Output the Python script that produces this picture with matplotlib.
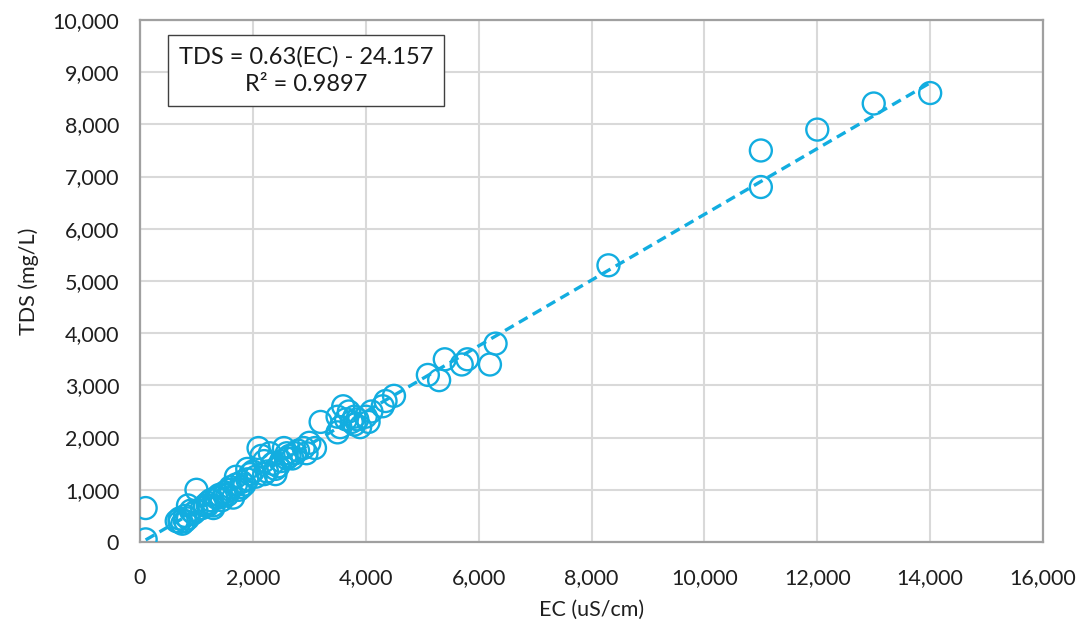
import matplotlib.pyplot as plt
import numpy as np
from matplotlib.ticker import FuncFormatter

plt.rcParams['font.family'] = ['Lato', 'DejaVu Sans']

# EC (uS/cm) vs TDS (mg/L) samples
ec = [100, 100, 650, 700, 750, 800, 800, 850, 900, 950, 1000, 1000, 1100,
      1200, 1200, 1250, 1300, 1350, 1400, 1400, 1450, 1500, 1550, 1600,
      1650, 1700, 1700, 1750, 1800, 1850, 1900, 1900, 1950, 2000, 2100,
      2150, 2200, 2250, 2300, 2350, 2400, 2450, 2500, 2550, 2600, 2600,
      2700, 2750, 2800, 2900, 2950, 3000, 3100, 3200, 3500, 3500, 3550,
      3600, 3700, 3750, 3800, 3800, 3850, 3900, 4000, 4050, 4100, 4300,
      4350, 4500, 5100, 5300, 5400, 5700, 5800, 6200, 6300, 8300, 11000,
      11000, 12000, 13000, 14000,
      700, 850, 1150, 1300, 1500, 1600, 1800, 2050, 2200, 2400, 2650, 3650]
tds = [50, 650, 400, 450, 350, 400, 500, 700, 600, 550, 1000, 600, 650,
       700, 750, 800, 700, 850, 850, 900, 800, 950, 900, 1000,
       850, 1100, 1250, 1000, 1150, 1100, 1200, 1400, 1300, 1350, 1800,
       1650, 1300, 1350, 1700, 1500, 1400, 1450, 1550, 1800, 1700, 1600,
       1600, 1700, 1750, 1800, 1700, 1900, 1800, 2300, 2100, 2400, 2200,
       2600, 2500, 2300, 2250, 2400, 2350, 2200, 2400, 2300, 2500, 2600,
       2700, 2800, 3200, 3100, 3500, 3400, 3500, 3400, 3800, 5300, 6800,
       7500, 7900, 8400, 8600,
       380, 450, 700, 650, 900, 1050, 1050, 1250, 1550, 1300, 1650, 2350]

# trendline as reported on the chart
slope = 0.63
intercept = -24.157
r2 = 0.9897

blue = '#12ADE0'

fig = plt.figure(figsize=(10.82, 6.3), dpi=100)
ax = fig.add_axes([0.1294, 0.1397, 0.8346, 0.8286])

ax.scatter(ec, tds, s=250, facecolors='none', edgecolors=blue,
           linewidths=1.7, zorder=3)
xl = np.array([min(ec), max(ec)])
ax.plot(xl, slope * xl + intercept, ls=(0, (3, 1.8)), color=blue, lw=2.4,
        zorder=4)

ax.set_xlim(0, 16000)
ax.set_ylim(0, 10000)
ax.set_xticks(np.arange(0, 16001, 2000))
ax.set_yticks(np.arange(0, 10001, 1000))
fmt = FuncFormatter(lambda v, p: f'{int(v):,}')
ax.xaxis.set_major_formatter(fmt)
ax.yaxis.set_major_formatter(fmt)
ax.tick_params(length=0, labelsize=15.5, colors='#1f1f1f')
ax.tick_params(axis='x', pad=19)
ax.tick_params(axis='y', pad=15)
ax.grid(True, color='#D9D9D9', lw=1.5)
ax.set_axisbelow(True)
for sp in ax.spines.values():
    sp.set_color('#A0A0A0')
    sp.set_linewidth(1.6)

ax.set_xlabel('EC (uS/cm)', fontsize=15.5, color='#1f1f1f', labelpad=8)
ax.set_ylabel('TDS (mg/L)', fontsize=15.5, color='#1f1f1f', labelpad=10)

ax.text(0.184, 0.903, f'TDS = {slope}(EC) - {-intercept}\nR² = {r2}',
        transform=ax.transAxes, ha='center', va='center', fontsize=17,
        color='#1a1a1a', linespacing=1.4, zorder=5,
        bbox=dict(boxstyle='square,pad=0.45', fc='white', ec='#404040', lw=1))

fig.savefig('out.png', dpi=100)
